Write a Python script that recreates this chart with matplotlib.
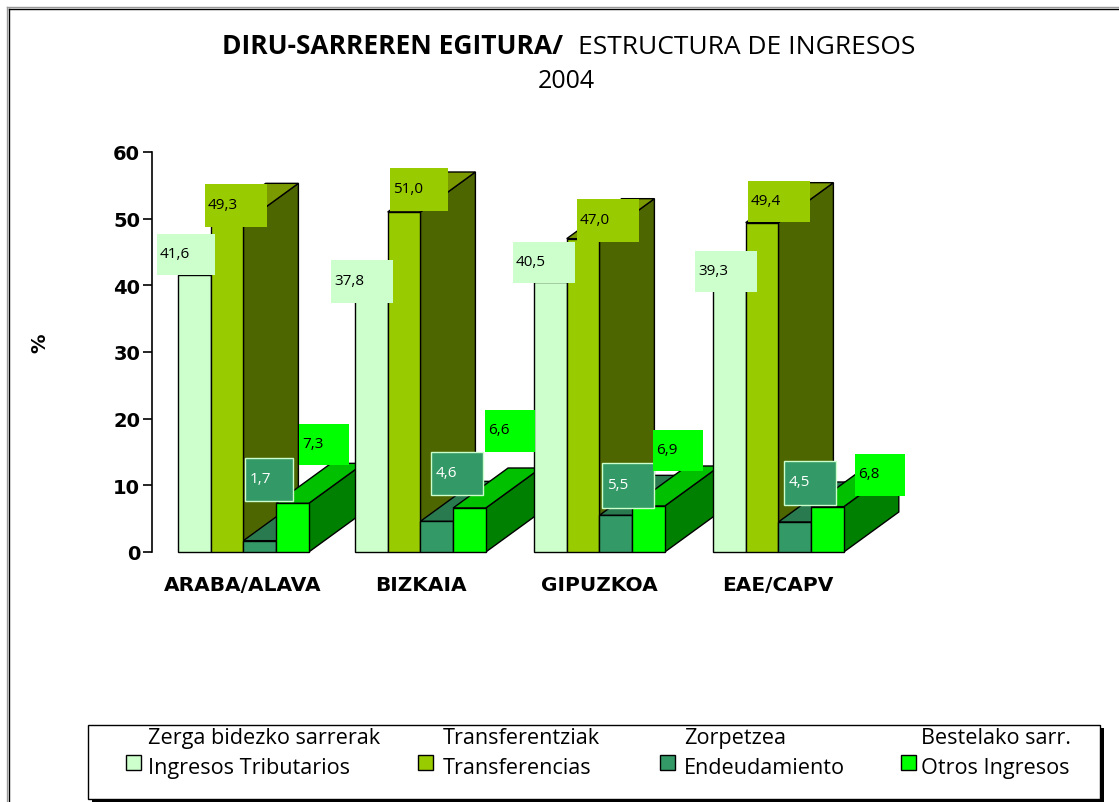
import matplotlib
matplotlib.use("Agg")
from matplotlib import pyplot as plt
from matplotlib.patches import Polygon, Rectangle

W, H = 1119, 803
COMIC = ["Open Sans", "DejaVu Sans"]

categories = ["ARABA/ALAVA", "BIZKAIA", "GIPUZKOA", "EAE/CAPV"]
tributarios = [41.6, 37.8, 40.5, 39.3]
transferencias = [49.3, 51.0, 47.0, 49.4]
endeudamiento = [1.7, 4.6, 5.5, 4.5]
otros = [7.3, 6.6, 6.9, 6.8]
yticks = [0, 10, 20, 30, 40, 50, 60]

legend_top = ["Zerga bidezko sarrerak", "Transferentziak", "Zorpetzea", "Bestelako sarr."]
legend_bottom = ["Ingresos Tributarios", "Transferencias", "Endeudamiento", "Otros Ingresos"]

front_colors = ["#ccffcc", "#99cc00", "#339966", "#00ff00"]
side_colors = ["#99bb99", "#4d6600", "#1f6b45", "#008000"]
top_colors = ["#aaddaa", "#7a9a00", "#2a7a50", "#00c000"]

# label boxes in pixels: left, top, right, bottom
boxes = [
    [(157, 235, 215, 276), (331, 261, 393, 304), (513, 243, 575, 284), (695, 252, 757, 293)],
    [(205, 185, 267, 228), (390, 169, 448, 212), (577, 200, 639, 243), (748, 182, 810, 223)],
    [(245, 459, 293, 502), (431, 453, 483, 496), (602, 464, 654, 509), (784, 462, 836, 506)],
    [(299, 425, 349, 466), (485, 411, 535, 453), (653, 431, 703, 472), (855, 455, 905, 497)],
]

fig = plt.figure(figsize=(W / 100, H / 100), dpi=100)


def fx(x):
    return x / W


def fy(y):
    return 1 - y / H


# axes spine sits at x=152, 0 at y=553, 60 at y=153; x data is in pixels from the left edge
ax = fig.add_axes([fx(152), fy(553), 760 / W, 400 / H])
ax.set_xlim(152, 912)
ax.set_ylim(0, 60)
ax.patch.set_alpha(0)
for s in ["top", "right", "bottom"]:
    ax.spines[s].set_visible(False)
ax.spines["left"].set_linewidth(1.2)
ax.set_yticks(yticks)
ax.set_yticklabels([str(t) for t in yticks], fontweight="bold", fontsize=14)
ax.tick_params(axis="y", length=6.5, width=1.2, pad=2)
ax.set_xticks([])

group_x = [178, 355, 534, 713]
label_x = [243, 421, 599, 778]
bar_w = 32.7
depth_x = 55
depth_y = 6.0  # in percent units, about 40 px

series = [tributarios, transferencias, endeudamiento, otros]
for g in range(len(categories)):
    for s in range(len(series)):
        v = series[s][g]
        x0 = group_x[g] + s * bar_w
        x1 = x0 + bar_w
        z = 2 + g * 5 + s
        side = Polygon([(x1, 0), (x1 + depth_x, depth_y), (x1 + depth_x, v + depth_y), (x1, v)],
                       facecolor=side_colors[s], edgecolor="black", lw=1.0, zorder=z, clip_on=False)
        top = Polygon([(x0, v), (x0 + depth_x, v + depth_y), (x1 + depth_x, v + depth_y), (x1, v)],
                      facecolor=top_colors[s], edgecolor="black", lw=1.0, zorder=z, clip_on=False)
        ax.add_patch(side)
        ax.add_patch(top)
        ax.bar(x0, v, width=bar_w, align="edge", color=front_colors[s], edgecolor="black",
               linewidth=1.0, zorder=z, clip_on=False)
    ax.text(label_x[g], -4.9, categories[g], ha="center", va="center",
            fontweight="bold", fontsize=14.5)

fig.text(fx(40), fy(343), "%", rotation=90, ha="center", va="center", fontweight="bold", fontsize=14)

# value labels
for s in range(4):
    for g in range(4):
        l, t, r, b = boxes[s][g]
        pale = s == 2
        fig.add_artist(Rectangle((fx(l), fy(b)), (r - l) / W, (b - t) / H, transform=fig.transFigure,
                                 facecolor=front_colors[s],
                                 edgecolor="#ccffcc" if pale else "none", lw=1.0, zorder=40))
        txt = f"{series[s][g]:.1f}".replace(".", ",")
        fig.text(fx(l + 3 if s != 2 else l + 5), fy((t + b) / 2 - 1), txt, ha="left", va="center",
                 fontsize=11, family=COMIC, color="white" if pale else "black", zorder=41)

# page frame, grey edge outside the black one
fig.add_artist(plt.Line2D([fx(7), fx(7)], [fy(803), fy(8)], color="#999999", lw=1.0))
fig.add_artist(plt.Line2D([fx(7), fx(1119)], [fy(8), fy(8)], color="#999999", lw=1.0))
fig.add_artist(plt.Line2D([fx(8.5), fx(8.5)], [fy(803), fy(9.5)], color="black", lw=1.0))
fig.add_artist(plt.Line2D([fx(8.5), fx(1119)], [fy(9.5), fy(9.5)], color="black", lw=1.0))

# title
fig.text(fx(563), fy(47), "DIRU-SARREREN EGITURA/", ha="right", va="center", fontweight="bold",
         fontsize=19, family=COMIC)
fig.text(fx(578), fy(48), "ESTRUCTURA DE INGRESOS", ha="left", va="center", fontsize=19, family=COMIC)
fig.text(fx(566), fy(82), "2004", ha="center", va="center", fontsize=18, family=COMIC)

# legend
fig.add_artist(Rectangle((fx(92), fy(804)), 1012 / W, 75 / H, transform=fig.transFigure,
                         facecolor="black", edgecolor="none", zorder=5))
fig.add_artist(Rectangle((fx(88), fy(800)), 1012 / W, 74 / H, transform=fig.transFigure,
                         facecolor="white", edgecolor="black", lw=1.0, zorder=6))
legend_x = [148, 443, 684, 921]
swatch_x = [126, 418, 660, 901]
for i in range(4):
    fig.text(fx(legend_x[i]), fy(739), legend_top[i], ha="left", va="center", fontsize=15.6,
             family=COMIC, zorder=7)
    fig.text(fx(legend_x[i]), fy(769), legend_bottom[i], ha="left", va="center", fontsize=15.6,
             family=COMIC, zorder=7)
    fig.add_artist(Rectangle((fx(swatch_x[i]), fy(771)), 15 / W, 15 / H, transform=fig.transFigure,
                             facecolor=front_colors[i], edgecolor="black", lw=1.0, zorder=7))

fig.savefig("out.png", dpi=100)
